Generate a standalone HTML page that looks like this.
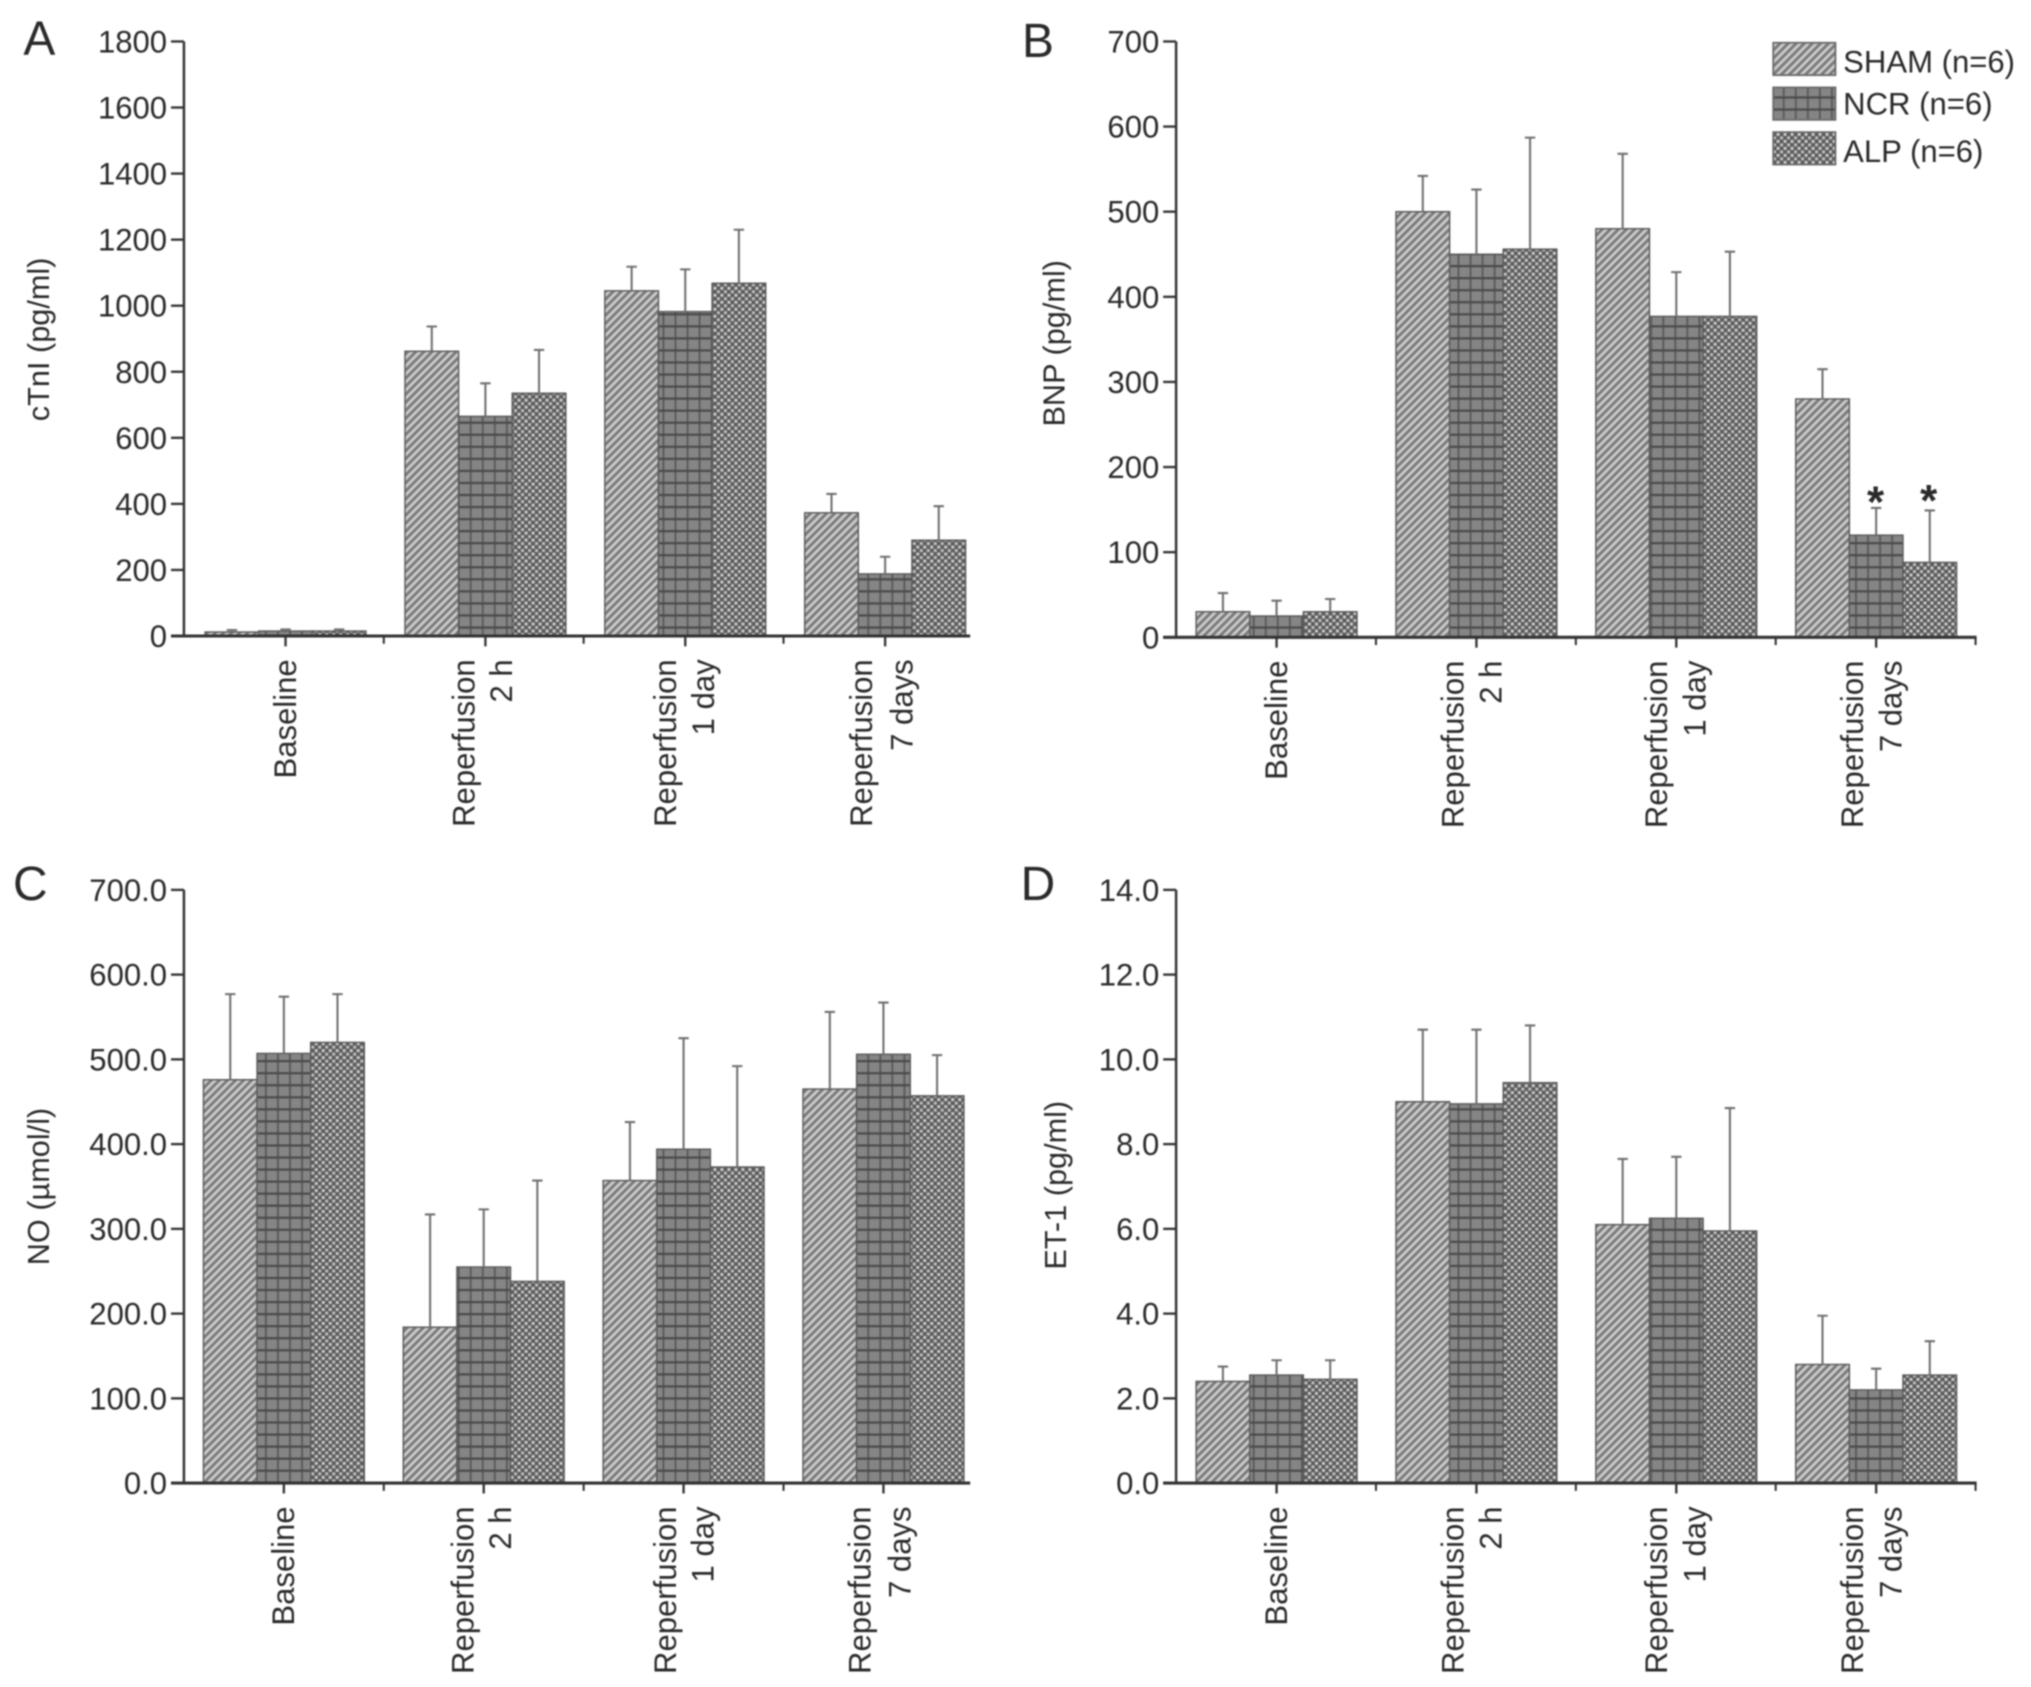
<!DOCTYPE html>
<html lang="en">
<head>
<meta charset="utf-8">
<title>Cardiac biomarkers by group and time point</title>
<style>
html,body{margin:0;padding:0;background:#fff;width:2031px;height:1687px;overflow:hidden}
svg{display:block;filter:blur(.7px)}
text{font-family:"Liberation Sans",sans-serif;fill:#2a2a2a}
</style>
</head>
<body>
<svg id="figure" xmlns="http://www.w3.org/2000/svg" width="2031" height="1687" viewBox="0 0 1568 1302.4">
<defs>
<pattern id="pat-sham" patternUnits="userSpaceOnUse" width="4.4" height="4.4" patternTransform="rotate(-45)">
<rect width="4.4" height="4.4" fill="#cacaca"/>
<rect width="4.4" height="2.2" fill="#7a7a7a"/>
</pattern>
<pattern id="pat-ncr" patternUnits="userSpaceOnUse" width="9.3" height="9.3">
<rect width="9.3" height="9.3" fill="#858585"/>
<rect x="0" width="1.4" height="9.3" fill="#585858"/>
<rect y="0" width="9.3" height="1.7" fill="#4a4a4a"/>
</pattern>
<pattern id="pat-alp" patternUnits="userSpaceOnUse" width="5.4" height="5.4">
<rect width="5.4" height="5.4" fill="#5c5c5c"/>
<rect x="0" y="0" width="2.3" height="2.3" fill="#cccccc"/>
<rect x="2.7" y="2.7" width="2.3" height="2.3" fill="#c0c0c0"/>
</pattern>
</defs>
</svg>
<script>
const categories = ['Baseline', 'Reperfusion', 'Reperfusion', 'Reperfusion'];
const categorySecondLine = ['', '2 h', '1 day', '7 days'];
const seriesNames = ['SHAM', 'NCR', 'ALP'];
const legendLabels = ['SHAM (n=6)', 'NCR (n=6)', 'ALP (n=6)'];

const ticksA = ['0', '200', '400', '600', '800', '1000', '1200', '1400', '1600', '1800'];
const shamA = [12, 862, 1045, 373];
const ncrA = [15, 665, 982, 188];
const alpA = [15, 735, 1068, 290];
const shamTopA = [18, 937, 1118, 430];
const ncrTopA = [20, 765, 1110, 240];
const alpTopA = [20, 866, 1230, 393];

const ticksB = ['0', '100', '200', '300', '400', '500', '600', '700'];
const shamB = [30, 500, 480, 280];
const ncrB = [25, 450, 377, 120];
const alpB = [30, 456, 377, 88];
const shamTopB = [52, 542, 568, 315];
const ncrTopB = [43, 526, 429, 152];
const alpTopB = [45, 587, 453, 149];

const ticksC = ['0.0', '100.0', '200.0', '300.0', '400.0', '500.0', '600.0', '700.0'];
const shamC = [476, 184, 357, 465];
const ncrC = [507, 255, 394, 506];
const alpC = [520, 238, 373, 457];
const shamTopC = [577, 317, 426, 556];
const ncrTopC = [574, 323, 525, 567];
const alpTopC = [577, 357, 492, 505];

const ticksD = ['0.0', '2.0', '4.0', '6.0', '8.0', '10.0', '12.0', '14.0'];
const shamD = [2.4, 9.0, 6.1, 2.8];
const ncrD = [2.55, 8.95, 6.25, 2.2];
const alpD = [2.45, 9.45, 5.95, 2.55];
const shamTopD = [2.75, 10.7, 7.65, 3.95];
const ncrTopD = [2.9, 10.7, 7.7, 2.7];
const alpTopD = [2.9, 10.8, 8.85, 3.35];

const NS = 'http://www.w3.org/2000/svg';
const root = document.getElementById('figure');
const patternIds = ['pat-sham', 'pat-ncr', 'pat-alp'];
const STEP = 154.3;
const BAR_W = 41.4;

function make(parent, tag, props, text) {
  const el = document.createElementNS(NS, tag);
  for (const k in props) el.setAttribute(k, props[k]);
  if (text !== undefined) el.textContent = text;
  parent.appendChild(el);
  return el;
}

function drawPanel(cfg) {
  const g = make(root, 'g', {});
  
  

  const yMax = Number(cfg.ticks[cfg.ticks.length - 1]);
  const yScale = v => cfg.y0 - (v / yMax) * (cfg.y0 - cfg.yTop);
  const groupCenter = i => cfg.x0 + cfg.shift + STEP * (i + 0.5);
  const barLeft = (i, s) => groupCenter(i) + BAR_W * (s - 1.5);

  const letter = make(g, 'text', {x: cfg.letterX, y: cfg.letterY, 'font-size': 37}, cfg.id);
  
  

  cfg.series.forEach((vals, s) => {
    vals.forEach((v, i) => {
      const bar = make(g, 'rect', {
        x: barLeft(i, s), y: yScale(v), width: BAR_W, height: cfg.y0 - yScale(v),
        fill: 'url(#' + patternIds[s] + ')', stroke: '#5a5a5a', 'stroke-width': 1.1
      });
      
      

      const cx = barLeft(i, s) + BAR_W / 2;
      const err = make(g, 'path', {
        d: 'M' + cx + ' ' + yScale(v) + 'V' + yScale(cfg.tops[s][i]) + 'M' + (cx - 4) + ' ' + yScale(cfg.tops[s][i]) + 'H' + (cx + 4),
        fill: 'none', stroke: '#707070', 'stroke-width': 1.6
      });
      
      
    });
  });

  const yAxis = make(g, 'line', {x1: cfg.x0, x2: cfg.x0, y1: cfg.yTop, y2: cfg.y0 + 1, stroke: '#333', 'stroke-width': 1.9});
  
  

  const xAxis = make(g, 'line', {x1: cfg.x0 - 10, x2: cfg.xEnd, y1: cfg.y0, y2: cfg.y0, stroke: '#333', 'stroke-width': 2.4});
  
  

  cfg.ticks.forEach(label => {
    const y = yScale(Number(label));
    make(g, 'line', {x1: cfg.x0 - 10, x2: cfg.x0, y1: y, y2: y, stroke: '#333', 'stroke-width': 1.8});
    const t = make(g, 'text', {x: cfg.x0 - 13, y: y + 8.5, 'font-size': 24, 'text-anchor': 'end'}, label);
    
    
  });

  categories.forEach((name, i) => {
    const c = groupCenter(i);
    make(g, 'line', {x1: c, x2: c, y1: cfg.y0, y2: cfg.y0 + 8, stroke: '#333', 'stroke-width': 1.8});
    const boundary = cfg.x0 + STEP * (i + 1);
    if (boundary <= cfg.xEnd + 1) {
      make(g, 'line', {x1: boundary, x2: boundary, y1: cfg.y0, y2: cfg.y0 + 6, stroke: '#333', 'stroke-width': 1.6});
    }
    const second = categorySecondLine[i];
    const xFirst = second ? c - cfg.labelOffsets[i] : c + 8;
    const yLabel = cfg.y0 + 18;
    const first = make(g, 'text', {
      transform: 'translate(' + xFirst + ' ' + yLabel + ') rotate(-90)',
      'font-size': 24, 'text-anchor': 'end'
    }, name);
    
    
    if (second) {
      const sec = make(g, 'text', {
        transform: 'translate(' + (xFirst + cfg.lineGaps[i]) + ' ' + yLabel + ') rotate(-90)',
        'font-size': 24, 'text-anchor': 'end'
      }, second);
      
      
    }
  });

  const title = make(g, 'text', {
    transform: 'translate(' + cfg.titleX + ' ' + cfg.titleY + ') rotate(-90)',
    'font-size': 23.7, 'text-anchor': 'middle'
  }, cfg.title);
  
  
}

drawPanel({
  id: 'A', title: 'cTnI (pg/ml)', ticks: ticksA,
  series: [shamA, ncrA, alpA], tops: [shamTopA, ncrTopA, alpTopA],
  x0: 142, shift: 1.3, yTop: 32, y0: 491, xEnd: 749,
  letterX: 18, letterY: 42, titleX: 38, titleY: 262,
  labelOffsets: [0, 8.5, 7, 10], lineGaps: [0, 29, 29, 31]
});
drawPanel({
  id: 'B', title: 'BNP (pg/ml)', ticks: ticksB,
  series: [shamB, ncrB, alpB], tops: [shamTopB, ncrTopB, alpTopB],
  x0: 908, shift: 0.4, yTop: 32, y0: 492, xEnd: 1526,
  letterX: 789, letterY: 44, titleX: 822, titleY: 265,
  labelOffsets: [0, 10, 7, 10], lineGaps: [0, 29.5, 29.5, 29.5]
});
drawPanel({
  id: 'C', title: 'NO (µmol/l)', ticks: ticksC,
  series: [shamC, ncrC, alpC], tops: [shamTopC, ncrTopC, alpTopC],
  x0: 142, shift: 0, yTop: 687, y0: 1145, xEnd: 749,
  letterX: 10, letterY: 695, titleX: 38, titleY: 916,
  labelOffsets: [0, 8, 6, 10], lineGaps: [0, 29, 29, 31]
});
drawPanel({
  id: 'D', title: 'ET-1 (pg/ml)', ticks: ticksD,
  series: [shamD, ncrD, alpD], tops: [shamTopD, ncrTopD, alpTopD],
  x0: 908, shift: 0.4, yTop: 687, y0: 1145, xEnd: 1526,
  letterX: 788, letterY: 695, titleX: 823, titleY: 915,
  labelOffsets: [0, 10, 7, 10], lineGaps: [0, 29.5, 29.5, 29.5]
});

const star1 = make(root, 'text', {x: 1448, y: 399, 'font-size': 34, 'font-weight': 'bold', 'text-anchor': 'middle'}, '*');


const star2 = make(root, 'text', {x: 1489, y: 398, 'font-size': 34, 'font-weight': 'bold', 'text-anchor': 'middle'}, '*');



const legend = make(root, 'g', {});


legendLabels.forEach((label, s) => {
  const top = 33 + s * 34.5;
  const swatch = make(legend, 'rect', {x: 1369, y: top, width: 48, height: 25, fill: 'url(#' + patternIds[s] + ')', stroke: '#6a6a6a', 'stroke-width': 1.4});
  
  
  const t = make(legend, 'text', {x: 1423, y: top + 23 - (s === 1 ? 2 : 0), 'font-size': 24}, label);
  
  
});
</script>
</body>
</html>
